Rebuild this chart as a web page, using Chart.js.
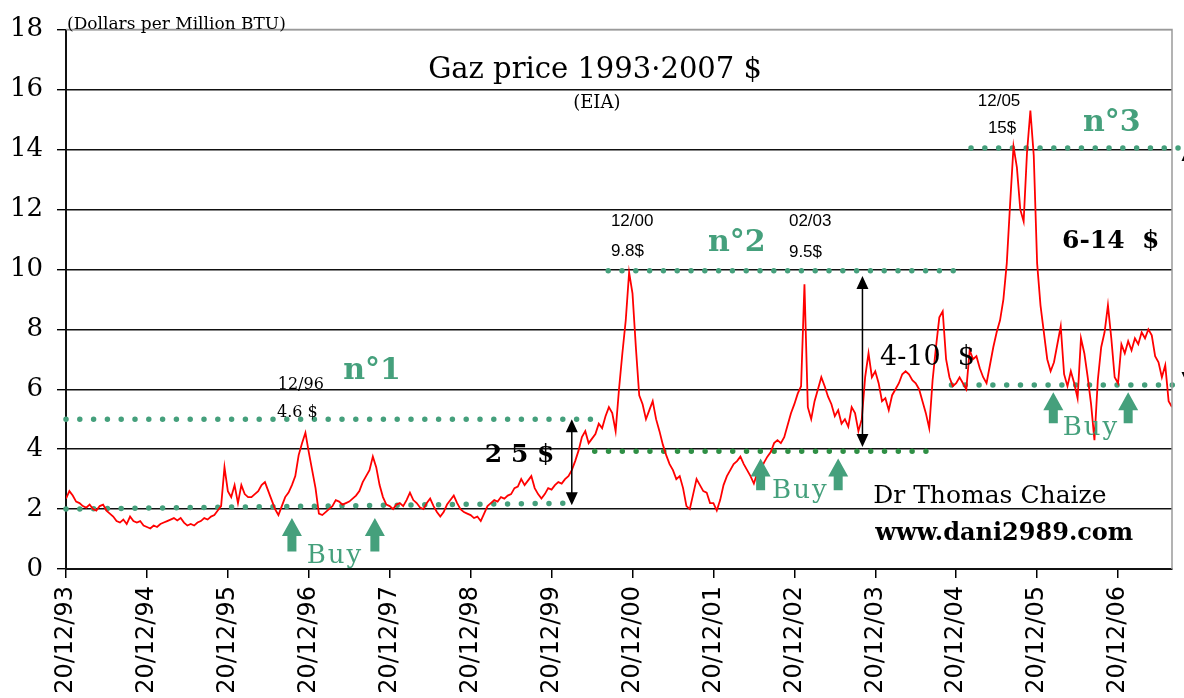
<!DOCTYPE html>
<html>
<head>
<meta charset="utf-8">
<title>Gaz price 1993-2007</title>
<script src="https://cdn.jsdelivr.net/npm/chart.js@4.4.1/dist/chart.umd.min.js"></script>
<style>
  html, body { margin: 0; padding: 0; background: #fff; }
</style>
</head>
<body>
<canvas id="gas-chart" width="1184" height="698"></canvas>
<script>
// one tick per year, on 20 December
const yearLabels = ['20/12/93', '20/12/94', '20/12/95', '20/12/96', '20/12/97', '20/12/98', '20/12/99',
  '20/12/00', '20/12/01', '20/12/02', '20/12/03', '20/12/04', '20/12/05', '20/12/06'];

// spot price ($ / million BTU), two readings a month, each list starts on 20 December
const dec93 = [2.35, 2.6, 2.45, 2.25, 2.2, 2.1, 2.05, 2.15, 2.0, 1.95, 2.1, 2.15, 1.95, 1.85, 1.75, 1.6, 1.55, 1.65, 1.5, 1.75, 1.6, 1.55, 1.6, 1.45];
const dec94 = [1.4, 1.35, 1.45, 1.4, 1.5, 1.55, 1.6, 1.65, 1.7, 1.62, 1.7, 1.55, 1.45, 1.5, 1.45, 1.55, 1.6, 1.7, 1.65, 1.75, 1.8, 1.95, 2.1, 3.4];
const dec95 = [2.6, 2.4, 2.8, 2.2, 2.8, 2.5, 2.4, 2.4, 2.5, 2.6, 2.8, 2.9, 2.6, 2.3, 2.0, 1.8, 2.1, 2.4, 2.55, 2.8, 3.1, 3.8, 4.2, 4.55];
const dec96 = [3.9, 3.3, 2.7, 1.85, 1.8, 1.9, 2.0, 2.1, 2.3, 2.25, 2.15, 2.2, 2.25, 2.35, 2.45, 2.6, 2.9, 3.1, 3.3, 3.75, 3.4, 2.8, 2.4, 2.15];
const dec97 = [2.1, 2.0, 2.15, 2.2, 2.1, 2.3, 2.55, 2.3, 2.2, 2.05, 2.0, 2.2, 2.35, 2.1, 1.9, 1.75, 1.9, 2.15, 2.3, 2.45, 2.2, 2.0, 1.9, 1.85];
const dec98 = [1.8, 1.7, 1.75, 1.6, 1.85, 2.1, 2.2, 2.3, 2.25, 2.4, 2.35, 2.45, 2.5, 2.7, 2.75, 3.0, 2.8, 2.95, 3.1, 2.7, 2.5, 2.35, 2.5, 2.7];
const dec99 = [2.65, 2.8, 2.9, 2.85, 3.0, 3.1, 3.3, 3.6, 3.95, 4.4, 4.6, 4.2, 4.35, 4.5, 4.85, 4.7, 5.1, 5.4, 5.2, 4.6, 6.0, 7.2, 8.3, 9.9];
const dec00 = [9.2, 7.4, 5.8, 5.5, 5.0, 5.3, 5.6, 5.0, 4.6, 4.15, 3.8, 3.5, 3.3, 3.0, 3.1, 2.7, 2.1, 2.0, 2.5, 3.0, 2.8, 2.6, 2.55, 2.2];
const dec01 = [2.2, 1.95, 2.3, 2.8, 3.1, 3.3, 3.5, 3.6, 3.75, 3.5, 3.3, 3.1, 2.85, 3.2, 3.3, 3.55, 3.75, 3.9, 4.2, 4.3, 4.2, 4.4, 4.8, 5.2];
const dec02 = [5.5, 5.85, 6.1, 9.5, 5.4, 5.0, 5.6, 6.0, 6.4, 6.1, 5.75, 5.5, 5.1, 5.3, 4.85, 5.0, 4.75, 5.4, 5.2, 4.6, 5.0, 6.4, 7.2, 6.4];
const dec03 = [6.6, 6.2, 5.6, 5.7, 5.3, 5.8, 6.0, 6.2, 6.5, 6.6, 6.5, 6.3, 6.2, 6.0, 5.6, 5.2, 4.7, 6.3, 7.4, 8.4, 8.6, 7.0, 6.4, 6.1];
const dec04 = [6.2, 6.4, 6.2, 6.0, 7.3, 7.0, 7.1, 6.7, 6.4, 6.2, 6.8, 7.4, 7.9, 8.3, 9.0, 10.2, 12.2, 14.1, 13.4, 12.0, 11.6, 13.9, 15.3, 13.8];
const dec05 = [10.2, 8.8, 7.9, 7.0, 6.6, 6.9, 7.5, 8.1, 6.5, 6.1, 6.6, 6.2, 5.7, 7.7, 7.2, 6.4, 5.5, 4.3, 6.3, 7.4, 7.9, 8.8, 7.7, 6.4];
const dec06 = [6.2, 7.5, 7.2, 7.6, 7.3, 7.7, 7.5, 7.9, 7.7, 8.0, 7.8, 7.1, 6.9, 6.4, 6.8, 5.6, 5.4];

// green dotted levels: [from month, to month, price at start, price at end]
const levels = [
  [0, 75.7, 2.0, 2.2],
  [0, 78.1, 5.0, 5.0],
  [78.4, 127.8, 3.93, 3.93],
  [80.4, 131.7, 9.95, 9.95],
  [131.3, 165.6, 6.14, 6.14],
  [134.2, 165.6, 14.05, 14.05],
];

// black double arrows: [month, top price, bottom price]
const spreads = [[75.0, 5.0, 2.13], [118.1, 9.78, 4.07], [166.3, 14.05, 6.14]];

// green "buy" arrows: [month, tip price, foot price]
const buys = [
  [33.5, 1.7, 0.58], [45.8, 1.7, 0.58],
  [103.0, 3.69, 2.63], [114.5, 3.69, 2.63],
  [146.4, 5.9, 4.86], [157.5, 5.9, 4.86],
];

const GREEN = '#45a07c';
const SERIF = '"DejaVu Serif", serif';
const SANS = '"Liberation Sans", Arial, sans-serif';

// text notes: [text, month, baseline price, font, colour]
const notes = [
  ['(Dollars per Million BTU)', 0.15, 18.03, '17px ' + SERIF, '#000'],
  ['Gaz price 1993\u00b72007 $', 53.7, 16.37, '29px ' + SERIF, '#000'],
  ['(EIA)', 75.2, 15.37, '18px ' + SERIF, '#000'],
  ['12/96', 31.4, 6.02, '16px ' + SERIF, '#000'],
  ['4.6 $', 31.3, 5.06, '16px ' + SERIF, '#000'],
  ['n\u00b01', 41.1, 6.35, 'bold 30px ' + SERIF, GREEN],
  ['2 5 $', 62.1, 3.56, 'bold 25px ' + SERIF, '#000'],
  ['12/00', 80.8, 11.45, '17px ' + SANS, '#000'],
  ['9.8$', 80.8, 10.45, '17px ' + SANS, '#000'],
  ['n\u00b02', 95.2, 10.61, 'bold 30px ' + SERIF, GREEN],
  ['02/03', 107.2, 11.45, '17px ' + SANS, '#000'],
  ['9.5$', 107.2, 10.41, '17px ' + SANS, '#000'],
  ['4-10  $', 120.7, 6.82, '27px ' + SERIF, '#000'],
  ['12/05', 135.2, 15.44, '17px ' + SANS, '#000'],
  ['15$', 136.7, 14.54, '17px ' + SANS, '#000'],
  ['n\u00b03', 150.8, 14.61, 'bold 30px ' + SERIF, GREEN],
  ['6-14  $', 147.7, 10.71, 'bold 25px ' + SERIF, '#000'],
  ['Dr Thomas Chaize', 119.7, 2.2, '25px ' + SERIF, '#000'],
  ['www.dani2989.com', 120.0, 0.96, 'bold 24px ' + SERIF, '#000'],
  ['Buy', 35.7, 0.2, '26px ' + SERIF, GREEN],
  ['Buy', 104.7, 2.36, '26px ' + SERIF, GREEN],
  ['Buy', 147.8, 4.46, '26px ' + SERIF, GREEN],
];

const prices = [dec93, dec94, dec95, dec96, dec97, dec98, dec99, dec00, dec01, dec02, dec03, dec04, dec05, dec06]
  .flat()
  .map((v, i) => ({ x: i * 0.5, y: v }));

const levelSets = levels.map(([x0, x1, y0, y1]) => ({
  data: [{ x: x0, y: y0 }, { x: x1, y: y1 }],
  borderColor: y0 === 3.93 ? '#2f8f45' : GREEN,
  borderWidth: 5.5,
  borderDash: [0, 13.8],
  borderCapStyle: 'round',
  pointRadius: 0,
  clip: false,
}));

const annotate = {
  id: 'annotate',
  afterDatasetsDraw(chart) {
    const { ctx, chartArea: a, scales: { x, y } } = chart;
    ctx.save();

    // grey frame on top and right
    ctx.strokeStyle = '#9a9a9a';
    ctx.lineWidth = 1.5;
    ctx.beginPath();
    ctx.moveTo(a.left, a.top);
    ctx.lineTo(a.right, a.top);
    ctx.lineTo(a.right, a.bottom);
    ctx.stroke();

    // black double arrows
    ctx.strokeStyle = '#000';
    ctx.fillStyle = '#000';
    ctx.lineWidth = 1.5;
    spreads.forEach(([m, top, bot]) => {
      const px = x.getPixelForValue(m);
      const t = y.getPixelForValue(top);
      const b = y.getPixelForValue(bot);
      ctx.beginPath();
      ctx.moveTo(px, t + 6);
      ctx.lineTo(px, b - 6);
      ctx.stroke();
      ctx.beginPath();
      ctx.moveTo(px, t); ctx.lineTo(px - 6, t + 13); ctx.lineTo(px + 6, t + 13); ctx.closePath();
      ctx.moveTo(px, b); ctx.lineTo(px - 6, b - 13); ctx.lineTo(px + 6, b - 13); ctx.closePath();
      ctx.fill();
    });

    // green buy arrows
    ctx.fillStyle = GREEN;
    buys.forEach(([m, tip, foot]) => {
      const px = x.getPixelForValue(m);
      const t = y.getPixelForValue(tip);
      const b = y.getPixelForValue(foot);
      ctx.beginPath();
      ctx.moveTo(px, t);
      ctx.lineTo(px + 10, t + 18);
      ctx.lineTo(px + 4.5, t + 18);
      ctx.lineTo(px + 4.5, b);
      ctx.lineTo(px - 4.5, b);
      ctx.lineTo(px - 4.5, t + 18);
      ctx.lineTo(px - 10, t + 18);
      ctx.closePath();
      ctx.fill();
    });

    // labels
    ctx.textAlign = 'left';
    ctx.textBaseline = 'alphabetic';
    notes.forEach(([text, m, v, font, color]) => {
      ctx.font = font;
      ctx.fillStyle = color;
      ctx.letterSpacing = text === 'Buy' ? '2px' : '0px';
      ctx.fillText(text, x.getPixelForValue(m), y.getPixelForValue(v));
    });
    ctx.restore();
  },
};

new Chart(document.getElementById('gas-chart'), {
  type: 'line',
  data: {
    datasets: [
      {
        data: prices,
        borderColor: '#ff0000',
        borderWidth: 1.8,
        pointRadius: 0,
        tension: 0,
      },
      ...levelSets,
    ],
  },
  options: {
    responsive: false,
    animation: false,
    devicePixelRatio: 1,
    layout: { padding: { top: 28, right: 12, left: 0, bottom: 0 } },
    plugins: { legend: { display: false }, tooltip: { enabled: false } },
    scales: {
      x: {
        type: 'linear',
        min: 0,
        max: 164,
        afterFit(scale) { scale.height = 129; },
        grid: { drawOnChartArea: false, drawTicks: true, tickLength: 9, tickColor: '#000', lineWidth: 1.5 },
        border: { color: '#111', width: 2 },
        ticks: {
          stepSize: 12,
          includeBounds: false,
          autoSkip: false,
          maxRotation: 90,
          minRotation: 90,
          padding: 8,
          color: '#000',
          font: { family: '"DejaVu Sans", sans-serif', size: 24 },
          callback: (v) => yearLabels[Math.round(v / 12)],
        },
      },
      y: {
        min: 0,
        max: 18,
        afterFit(scale) { scale.width = 66; },
        grid: {
          color: (c) => (c.tick && c.tick.value === 18 ? '#9a9a9a' : '#111'),
          lineWidth: 1.4,
          tickLength: 9,
          tickColor: '#000',
        },
        border: { color: '#111', width: 2 },
        ticks: {
          stepSize: 2,
          padding: 14,
          color: '#000',
          font: { family: SERIF, size: 26 },
        },
      },
    },
  },
  plugins: [annotate],
});
</script>
</body>
</html>
